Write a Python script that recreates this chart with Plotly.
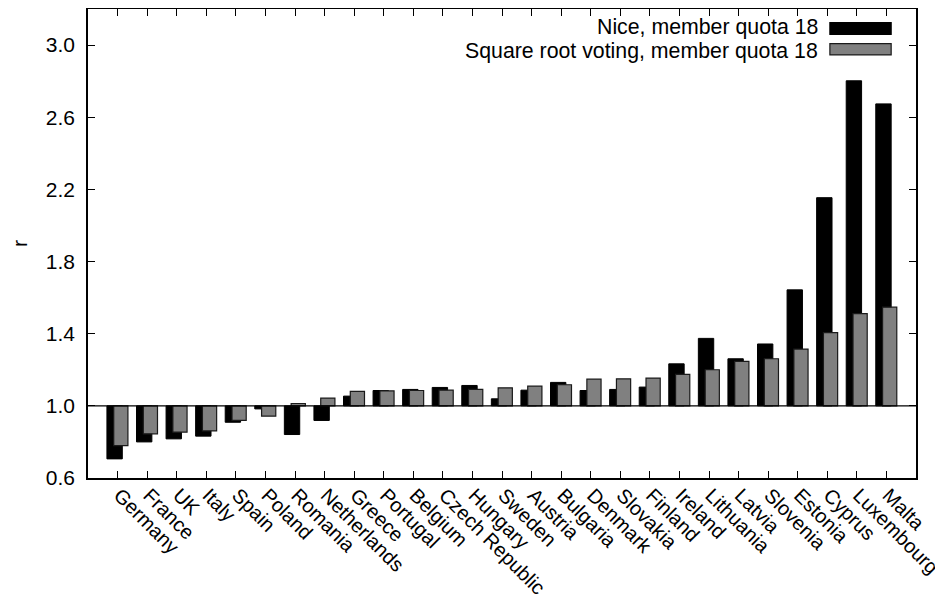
import plotly.graph_objects as go

countries = ["Germany", "France", "UK", "Italy", "Spain", "Poland", "Romania", "Netherlands",
             "Greece", "Portugal", "Belgium", "Czech Republic", "Hungary", "Sweden", "Austria",
             "Bulgaria", "Denmark", "Slovakia", "Finland", "Ireland", "Lithuania", "Latvia",
             "Slovenia", "Estonia", "Cyprus", "Luxembourg", "Malta"]
nice = [0.706, 0.800, 0.817, 0.832, 0.909, 0.983, 0.841, 0.919,
        1.054, 1.085, 1.091, 1.102, 1.113, 1.039, 1.087,
        1.130, 1.085, 1.091, 1.104, 1.233, 1.374, 1.261,
        1.343, 1.643, 2.154, 2.802, 2.674]
sqrt_voting = [0.780, 0.845, 0.854, 0.861, 0.919, 0.943, 1.013, 1.043,
               1.080, 1.083, 1.085, 1.087, 1.091, 1.100, 1.109,
               1.117, 1.148, 1.150, 1.154, 1.175, 1.200, 1.247,
               1.261, 1.315, 1.406, 1.511, 1.547]
y_ticks = [0.6, 1.0, 1.4, 1.8, 2.2, 2.6, 3.0]
baseline = 1.0
series_names = ["Nice, member quota 18", "Square root voting, member quota 18"]

FONT = "Liberation Sans, Arial, sans-serif"
FS = 21

fig = go.Figure()
fig.add_trace(go.Bar(
    x=countries, y=[v - baseline for v in nice], base=baseline,
    name=series_names[0], offset=-0.36, width=0.52,
    marker=dict(color="#000000", line=dict(color="#000000", width=1)),
    showlegend=False,
))
fig.add_trace(go.Bar(
    x=countries, y=[v - baseline for v in sqrt_voting], base=baseline,
    name=series_names[1], offset=-0.13, width=0.48,
    marker=dict(color="#808080", line=dict(color="#1a1a1a", width=1.2)),
    showlegend=False,
))

# baseline line at r = 1
fig.add_shape(type="line", xref="paper", x0=0, x1=1, yref="y", y0=baseline, y1=baseline,
              line=dict(color="#000000", width=1.2))

# manual legend (text right-aligned, swatch on the right, as in gnuplot)
legend_rows = [(0.961, 0.971, 0.946, "#000000", "#000000"),
               (0.910, 0.926, 0.902, "#808080", "#1a1a1a")]
for name, (yc, y0, y1, fill, edge) in zip(series_names, legend_rows):
    fig.add_annotation(text=name, xref="paper", yref="paper", x=0.883, y=yc,
                       xanchor="right", yanchor="middle", showarrow=False, borderpad=0,
                       font=dict(family=FONT, size=21.3, color="#000000"))
    fig.add_shape(type="rect", xref="paper", yref="paper", x0=0.896, x1=0.970, y0=y1, y1=y0,
                  fillcolor=fill, line=dict(color=edge, width=1.2))

# page body adds an 8px offset, so the figure is sized to fit the window
fig.update_layout(
    width=935, height=593,
    margin=dict(l=80, r=27, t=1, b=123, autoexpand=False),
    paper_bgcolor="white", plot_bgcolor="white",
    barmode="overlay",
    font=dict(family=FONT, size=FS, color="#000000"),
    showlegend=False,
)
fig.update_xaxes(
    type="category", range=[-1, 27], tickangle=45, automargin=False,
    ticks="inside", ticklen=7, tickcolor="#000000", tickwidth=1,
    ticklabelshift=2, ticklabelstandoff=-4,
    showline=True, linecolor="#000000", linewidth=1.5, mirror="ticks",
    showgrid=False, tickfont=dict(family=FONT, size=20),
)
fig.update_yaxes(
    range=[0.6, 3.2], tickvals=y_ticks, ticktext=[f"{v:.1f}" for v in y_ticks],
    automargin=False, ticklabelstandoff=7,
    ticks="inside", ticklen=7, tickcolor="#000000", tickwidth=1,
    showline=True, linecolor="#000000", linewidth=1.5, mirror="ticks",
    showgrid=False, zeroline=False, tickfont=dict(family=FONT, size=FS),
    title=dict(text="r", font=dict(family=FONT, size=FS), standoff=25),
)

fig.write_html("out.html")
